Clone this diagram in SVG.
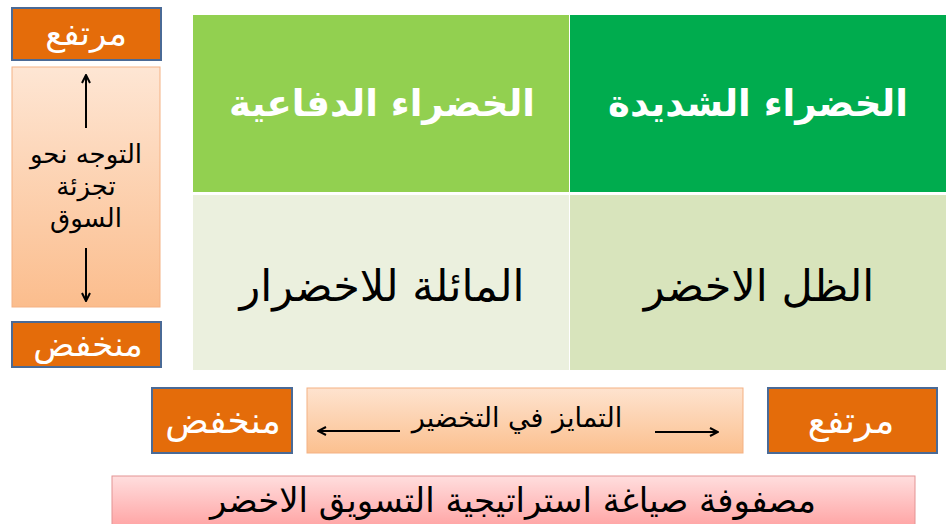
<svg xmlns="http://www.w3.org/2000/svg" width="947" height="524" viewBox="0 0 947 524">
<defs>
<linearGradient id="peach" x1="0" y1="0" x2="0" y2="1">
<stop offset="0" stop-color="#fee6d4"/>
<stop offset="1" stop-color="#fbbd8d"/>
</linearGradient>
<linearGradient id="peachH" x1="0" y1="0" x2="0" y2="1">
<stop offset="0" stop-color="#fee3cf"/>
<stop offset="1" stop-color="#fbc08f"/>
</linearGradient>
<linearGradient id="pink" x1="0" y1="0" x2="0" y2="1">
<stop offset="0" stop-color="#ffdede"/>
<stop offset="1" stop-color="#ffa3a3"/>
</linearGradient>
<marker id="ah" viewBox="0 0 10 10" refX="9" refY="5" markerWidth="10" markerHeight="10" markerUnits="userSpaceOnUse" orient="auto">
<path d="M1,1 L9,5 L1,9" fill="none" stroke="#000" stroke-width="2"/>
</marker>
<style>
.orange{fill:#e46c0a;stroke:#4a6a96;stroke-width:2}
.wt{font-family:"DejaVu Sans","Noto Sans",sans-serif;fill:#fff;text-anchor:middle}
.bt{font-family:"DejaVu Sans","Noto Sans",sans-serif;fill:#000;text-anchor:middle}
.arr{stroke:#000;stroke-width:2;fill:none;marker-end:url(#ah)}
</style>
</defs>
<rect width="947" height="524" fill="#fff"/>

<g id="cell-strong-green">
<rect x="570" y="15" width="376" height="177" fill="#00ac4e"/>
<text class="wt" x="758" y="116" font-size="37" font-weight="bold">الخضراء الشديدة</text>
</g>
<g id="cell-defensive-green">
<rect x="193" y="15" width="376" height="177" fill="#92d050"/>
<text class="wt" x="382" y="116" font-size="37" font-weight="bold">الخضراء الدفاعية</text>
</g>
<g id="cell-shadow-green">
<rect x="570" y="195" width="376" height="175" fill="#d8e4bc"/>
<text class="bt" x="759" y="301" font-size="43">الظل الاخضر</text>
</g>
<g id="cell-lean-green">
<rect x="193" y="195" width="376" height="175" fill="#ebf0de"/>
<text class="bt" x="382" y="301" font-size="43">المائلة للاخضرار</text>
</g>

<g id="left-high">
<rect class="orange" x="12" y="8" width="149" height="52"/>
<text class="wt" x="86" y="45" font-size="34">مرتفع</text>
</g>
<g id="left-axis">
<rect x="12" y="67" width="148" height="240" fill="url(#peach)" stroke="#f4b183" stroke-width="1"/>
<text class="bt" x="86" y="163" font-size="26">التوجه نحو</text>
<text class="bt" x="86" y="195" font-size="26">تجزئة</text>
<text class="bt" x="86" y="227" font-size="26">السوق</text>
</g>
<g id="left-low">
<rect class="orange" x="12" y="322" width="149" height="45"/>
<text class="wt" x="88" y="356" font-size="34">منخفض</text>
</g>

<g id="bottom-low">
<rect class="orange" x="152" y="388" width="140" height="65"/>
<text class="wt" x="223" y="433" font-size="36">منخفض</text>
</g>
<g id="bottom-axis">
<rect x="307" y="388" width="436" height="65" fill="url(#peachH)" stroke="#f4b183" stroke-width="1"/>
<text class="bt" x="517" y="427" font-size="27">التمايز في التخضير</text>
</g>
<g id="bottom-high">
<rect class="orange" x="768" y="388" width="169" height="65"/>
<text class="wt" x="851" y="433" font-size="36">مرتفع</text>
</g>

<g id="title">
<rect x="112" y="476" width="803" height="52" fill="url(#pink)" stroke="#e39494" stroke-width="1"/>
<text class="bt" x="513" y="512" font-size="34">مصفوفة صياغة استراتيجية التسويق الاخضر</text>
</g>

<g id="connectors">
<line class="arr" x1="86" y1="128" x2="86" y2="75"/>
<line class="arr" x1="86" y1="248" x2="86" y2="301"/>
<line class="arr" x1="400" y1="431" x2="318" y2="431"/>
<line class="arr" x1="655" y1="432" x2="718" y2="432"/>
</g>
</svg>
